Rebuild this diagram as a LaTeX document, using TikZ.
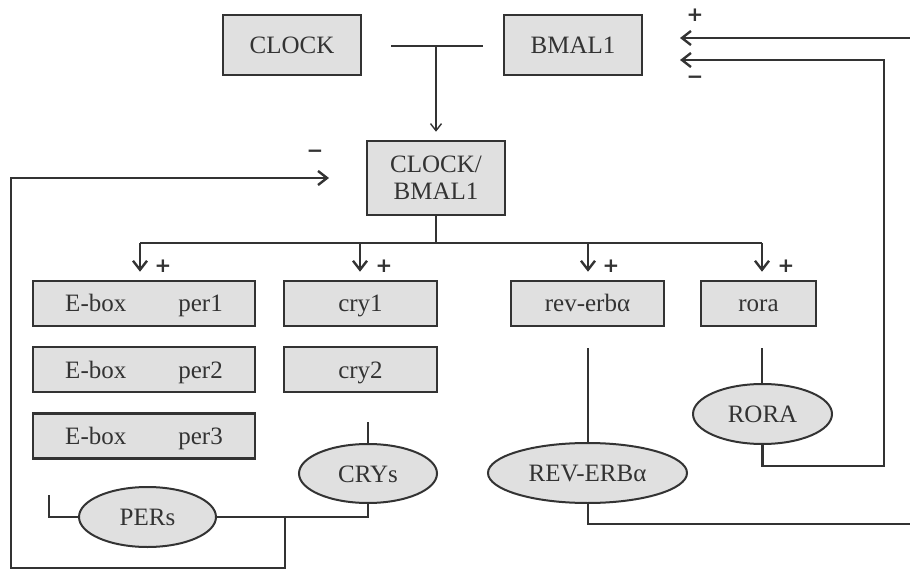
\documentclass[tikz,border=0pt]{standalone}
\usepackage{fontspec}
\setmainfont{Liberation Serif}
\newfontfamily\signfont{DejaVu Sans}
\usetikzlibrary{arrows.meta,shapes.geometric}
\definecolor{ink}{HTML}{333333}
\definecolor{boxfill}{HTML}{E0E0E0}
\begin{document}
\begin{tikzpicture}[x=1pt,y=-1pt,
  gbox/.style={draw=ink, line width=2.5pt, fill=boxfill, text=ink, inner sep=0pt,
    font=\fontsize{25}{28}\selectfont, text height=18pt, text depth=1pt},
  gbox2/.style={draw=ink, line width=2.5pt, fill=boxfill, text=ink, inner sep=0pt,
    font=\fontsize{25}{28}\selectfont, align=center},
  gell/.style={ellipse, draw=ink, line width=2pt, fill=boxfill, text=ink, inner sep=0pt,
    font=\fontsize{25}{28}\selectfont, text height=18pt, text depth=1pt},
  conn/.style={draw=ink, line width=2pt},
  thinarrow/.style={draw=ink, line width=1.4pt, -{Straight Barb[length=7pt,width=11pt]}},
  brarrow/.style={draw=ink, line width=2.4pt, -{Straight Barb[length=9pt,width=14pt]}},
  sign/.style={text=ink, font=\signfont\bfseries\fontsize{20}{20}\selectfont, inner sep=0pt}
]
\useasboundingbox (0,0) rectangle (910,569);

% top boxes
\node[gbox, minimum width=138pt, minimum height=60pt] (clock) at (292,45) {CLOCK};
\node[gbox, minimum width=138pt, minimum height=60pt] (bmal) at (573,45) {BMAL1};
\node[gbox2, minimum width=138pt, minimum height=74pt] (cb) at (436,178) {CLOCK/\\[-1pt]BMAL1};

% gene boxes
\node[gbox, minimum width=222pt, minimum height=45pt] (per1) at (144,303.5) {E-box\hspace{52pt}per1};
\node[gbox, minimum width=222pt, minimum height=45pt] (per2) at (144,369.5) {E-box\hspace{52pt}per2};
\node[gbox, minimum width=222pt, minimum height=45pt] (per3) at (144,436) {E-box\hspace{52pt}per3};
\node[gbox, minimum width=153pt, minimum height=45pt] (cry1) at (360.5,303.5) {cry1};
\node[gbox, minimum width=153pt, minimum height=45pt] (cry2) at (360.5,369.5) {cry2};
\node[gbox, minimum width=153pt, minimum height=45pt] (rev) at (587.5,303.5) {rev-erbα};
\node[gbox, minimum width=115pt, minimum height=45pt] (rora) at (758.5,303.5) {rora};

% proteins
\node[gell, minimum width=137pt, minimum height=60pt] (PER) at (147.5,517) {PERs};
\node[gell, minimum width=138pt, minimum height=59pt] (CRY) at (368,473.5) {CRYs};
\node[gell, minimum width=199pt, minimum height=60pt] (REV) at (587.5,473) {REV-ERBα};
\node[gell, minimum width=139pt, minimum height=60pt] (ROR) at (762.5,414) {RORA};

% CLOCK + BMAL1 -> CLOCK/BMAL1
\coordinate (jl) at (391,46);
\coordinate (jr) at (483,46);
\coordinate (jm) at (436,46);
\draw[conn] (jl) -- (jr);
\draw[thinarrow, shorten >=8pt] (jm) -- (cb.north);

% branches
\coordinate (bj) at (436,243);
\coordinate (b1) at (140,243);
\coordinate (b2) at (360,243);
\coordinate (b3) at (588,243);
\coordinate (b4) at (762,243);
\draw[conn] (cb.south) -- (bj);
\draw[conn] (b1) -- (b4);
\draw[brarrow, shorten >=8pt] (b1) -- (b1 |- per1.north);
\draw[brarrow, shorten >=8pt] (b2) -- (b2 |- cry1.north);
\draw[brarrow, shorten >=8pt] (b3) -- (b3 |- rev.north);
\draw[brarrow, shorten >=8pt] (b4) -- (b4 |- rora.north);
\node[sign] (s1) at (163,266) {+};
\node[sign] (s2) at (384,266) {+};
\node[sign] (s3) at (611,266) {+};
\node[sign] (s4) at (786,266) {+};

% translation lines
\coordinate (rvs) at (588,348);
\coordinate (rrs) at (762,348);
\coordinate (crs) at (368,422);
\draw[conn] (rvs) -- (rvs |- REV.north);
\draw[conn] (rrs) -- (rrs |- ROR.north);
\draw[conn] (crs) -- (crs |- CRY.north);

% RORA feedback (+ / -)
\coordinate (rorR) at (884,466);
\coordinate (bmIn2) at (680,60);
\coordinate (bmIn1) at (680,38);
\coordinate (edgeTop) at (910,38);
\draw[brarrow] (ROR.south) |- (rorR) |- (bmIn2);
\draw[brarrow] (edgeTop) -- (bmIn1);
\node[sign] (sp) at (695,15) {+};
\node[sign] (sm) at (695,80) {−};

% REV-ERB line to edge
\coordinate (edgeBot) at (910,524);
\draw[conn] (REV.south) |- (edgeBot);

% CRY / PER feedback
\coordinate (cpj) at (285,517);
\coordinate (pl) at (49,495);
\coordinate (fbBot) at (11,568);
\coordinate (cbIn) at (329,178);
\draw[conn] (CRY.south) |- (PER.east);
\draw[conn] (PER.west) -| (pl);
\draw[brarrow] (cpj) |- (fbBot) |- (cbIn);
\node[sign] (sm2) at (315,154) {−};
\end{tikzpicture}
\end{document}
